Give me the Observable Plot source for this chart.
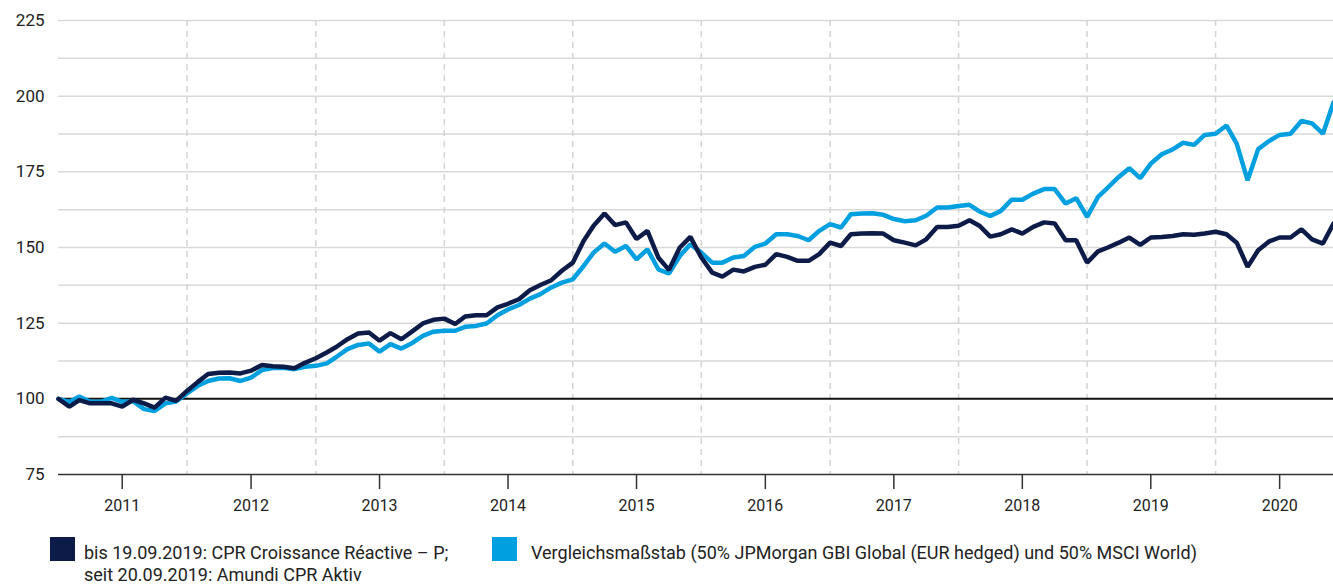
<!DOCTYPE html>
<html>
<head>
<meta charset="utf-8">
<script src="https://cdn.jsdelivr.net/npm/d3@7"></script>
<script src="https://cdn.jsdelivr.net/npm/@observablehq/plot@0.6"></script>
<style>
  html, body { margin: 0; padding: 0; background: #fff; }
  body { width: 1333px; height: 585px; overflow: hidden; font-family: Roboto, "Liberation Sans", sans-serif; color: #222; }
  #chart svg { display: block; }
  .legend { position: relative; height: 60px; font-size: 18px; line-height: 22px; color: #222; }
  .item { position: absolute; top: 12px; display: flex; align-items: flex-start; }
  .sw { width: 25px; height: 24px; flex: none; }
</style>
</head>
<body>
<div id="chart"></div>
<div class="legend">
  <div class="item" style="left:50px;"><div class="sw" style="background:#0d1b48;margin-right:9px"></div><div style="margin-top:5px">bis 19.09.2019: CPR Croissance Réactive – P;<br>seit 20.09.2019: Amundi CPR Aktiv</div></div>
  <div class="item" style="left:492px;"><div class="sw" style="background:#009fe0;margin-right:14px"></div><div style="margin-top:5px">Vergleichsmaßstab (50% JPMorgan GBI Global (EUR hedged) und 50% MSCI World)</div></div>
</div>
<script>
// Monthly index values (month-ends, Dec 2010 = 100 ... Nov 2020)
const fundValues = [
  100.0, 97.4, 99.6, 98.5, 98.5, 98.5, 97.4, 99.7, 98.5, 97.1, 100.4, 99.3,
  102.6, 105.6, 108.2, 108.6, 108.7, 108.4, 109.3, 111.2, 110.8, 110.6, 110.1, 111.9,
  113.4, 115.3, 117.2, 119.7, 121.6, 121.9, 119.2, 121.7, 119.7, 122.2, 124.9, 126.1,
  126.5, 124.7, 127.2, 127.6, 127.6, 130.2, 131.4, 132.9, 135.9, 137.6, 139.2, 142.3,
  145.0, 152.2, 157.2, 161.2, 157.4, 158.3, 152.8, 155.5, 146.7, 142.6, 150.0, 153.5,
  146.7, 141.7, 140.4, 142.7, 142.1, 143.6, 144.3, 147.8, 146.9, 145.6, 145.6, 147.8,
  151.6, 150.5, 154.4, 154.6, 154.7, 154.6, 152.4, 151.6, 150.7, 152.7, 156.8, 156.8,
  157.2, 159.0, 157.2, 153.6, 154.4, 156.0, 154.6, 156.8, 158.3, 157.9, 152.4, 152.4,
  145.0, 148.7, 150.0, 151.6, 153.3, 150.9, 153.3, 153.5, 153.8, 154.4, 154.2, 154.6,
  155.2, 154.4, 151.6, 143.6, 149.1, 152.0, 153.3, 153.3, 156.0, 152.7, 151.3, 157.9
];
const benchValues = [
  100.0, 99.0, 100.8, 99.0, 99.0, 100.3, 99.0, 99.2, 96.6, 96.0, 98.5, 99.1,
  101.8, 104.3, 105.9, 106.7, 106.8, 105.9, 107.0, 109.5, 110.2, 110.3, 109.8, 110.6,
  110.9, 111.7, 113.9, 116.4, 117.8, 118.3, 115.6, 118.1, 116.6, 118.4, 120.8, 122.2,
  122.5, 122.5, 123.8, 124.1, 124.9, 127.6, 129.5, 131.0, 133.1, 134.6, 136.8, 138.4,
  139.5, 143.9, 148.3, 151.3, 148.6, 150.5, 146.1, 149.4, 142.8, 141.4, 147.2, 151.1,
  148.3, 145.0, 145.0, 146.7, 147.2, 150.2, 151.3, 154.4, 154.4, 153.8, 152.4, 155.5,
  157.7, 156.6, 161.0, 161.2, 161.3, 160.8, 159.4, 158.7, 159.0, 160.5, 163.2, 163.2,
  163.7, 164.1, 161.9, 160.4, 162.1, 165.8, 165.8, 167.8, 169.3, 169.3, 164.5, 166.3,
  160.1, 166.7, 169.8, 173.3, 176.2, 172.9, 177.7, 180.8, 182.4, 184.6, 183.9, 187.2,
  187.6, 190.3, 184.3, 172.2, 182.5, 185.2, 187.2, 187.6, 191.8, 191.0, 187.6, 197.9
];
const startMonth = new Date(Date.UTC(2011, 0, 1)); // end of Dec 2010
const yearLabels = [2011, 2012, 2013, 2014, 2015, 2016, 2017, 2018, 2019, 2020];
const yTickLabels = [75, 100, 125, 150, 175, 200, 225];
const yGridLines = [87.5, 112.5, 125, 137.5, 150, 162.5, 175, 187.5, 200, 212.5, 225];

const dates = fundValues.map((_, i) => d3.utcMonth.offset(startMonth, i));
const fund = fundValues.map((v, i) => ({date: dates[i], value: v}));
const bench = benchValues.map((v, i) => ({date: dates[i], value: v}));
const yearMid = yearLabels.map(y => new Date(Date.UTC(y, 6, 1)));
const yearBounds = yearLabels.slice(1).map(y => new Date(Date.UTC(y, 0, 1)));

const chart = Plot.plot({
  width: 1333,
  height: 525,
  marginLeft: 58,
  marginRight: 0,
  marginTop: 20,
  marginBottom: 51,
  style: {fontFamily: "Roboto, 'Liberation Sans', sans-serif", fontSize: "16px", color: "#222", background: "#fff"},
  x: {type: "utc", domain: [startMonth, dates[dates.length - 1]]},
  y: {domain: [75, 225]},
  marks: [
    Plot.ruleY(yGridLines, {stroke: "#d9d9d9", strokeWidth: 1.5}),
    Plot.ruleX(yearBounds, {stroke: "#d4d4d4", strokeWidth: 1.5, strokeDasharray: "6,5"}),
    Plot.ruleY([100], {stroke: "#111", strokeWidth: 2}),
    Plot.ruleY([75], {stroke: "#333", strokeWidth: 1.5}),
    Plot.axisY(yTickLabels, {tickSize: 0, tickPadding: 14, label: null, fontSize: 17}),
    Plot.axisX(yearMid, {tickSize: 15, tickPadding: 10, tickFormat: d => String(d.getUTCFullYear()), label: null, fontSize: 16, stroke: "#333", strokeWidth: 1.5}),
    Plot.line(bench, {x: "date", y: "value", stroke: "#009fe0", strokeWidth: 4.5, strokeLinejoin: "miter"}),
    Plot.line(fund, {x: "date", y: "value", stroke: "#0d1b48", strokeWidth: 4.5, strokeLinejoin: "miter"})
  ]
});
document.getElementById("chart").append(chart);
</script>
</body>
</html>
